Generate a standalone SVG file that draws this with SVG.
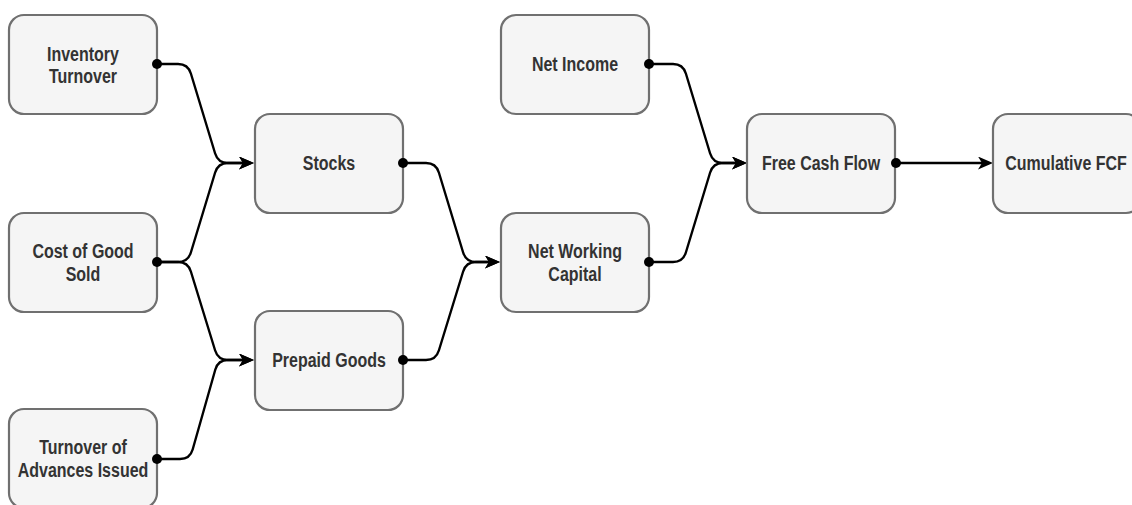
<svg xmlns="http://www.w3.org/2000/svg" width="1132" height="505" viewBox="0 0 1132 505">
  <style>
    .box { fill: #f5f5f5; stroke: #707070; stroke-width: 2.2; }
    .lbl { font-family: "Liberation Sans", Arial, Helvetica, sans-serif; font-weight: bold; font-size: 16px; fill: #333333; text-anchor: middle; }
    .edge { fill: none; stroke: #000000; stroke-width: 2.3; stroke-linejoin: round; }
    .dot { fill: #000000; }
  </style>
  <defs>
    <marker id="arrow" markerUnits="userSpaceOnUse" markerWidth="16" markerHeight="14" refX="11" refY="6.5" orient="auto">
      <path d="M0,0 L15,6.5 L0,13 L4,6.5 Z" fill="#000000"/>
    </marker>
  </defs>

  <rect width="1132" height="505" fill="#ffffff"/>

  <!-- connectors -->
  <g id="connectors">
    <path class="edge" marker-end="url(#arrow)" d="M157,64 H178 Q188,64 190.9,73.6 L215.1,153.4 Q218,163 228,163 H250"/>
    <path class="edge" marker-end="url(#arrow)" d="M157,262 H178 Q188,262 190.9,252.4 L215.1,172.6 Q218,163 228,163 H250"/>
    <path class="edge" marker-end="url(#arrow)" d="M157,262 H178 Q188,262 190.9,271.6 L215.1,350.4 Q218,360 228,360 H250"/>
    <path class="edge" marker-end="url(#arrow)" d="M157,459 H180 Q190,459 192.7,449.4 L215.3,369.6 Q218,360 228,360 H250"/>
    <path class="edge" marker-end="url(#arrow)" d="M403,163 H426 Q436,163 438.9,172.6 L463.1,252.4 Q466,262 476,262 H496"/>
    <path class="edge" marker-end="url(#arrow)" d="M403,360 H426 Q436,360 438.9,350.4 L463.1,271.6 Q466,262 476,262 H496"/>
    <path class="edge" marker-end="url(#arrow)" d="M649,64 H673 Q683,64 685.9,73.6 L710.1,153.4 Q713,163 723,163 H743"/>
    <path class="edge" marker-end="url(#arrow)" d="M649,262 H673 Q683,262 685.9,252.4 L710.1,172.6 Q713,163 723,163 H743"/>
    <path class="edge" marker-end="url(#arrow)" d="M896,163 H989"/>
  </g>

  <g id="inventory-turnover">
    <rect class="box" x="9" y="15" width="148" height="99" rx="15"/>
    <text class="lbl" transform="translate(83,61) scale(1,1.22)">Inventory</text>
    <text class="lbl" transform="translate(83,83) scale(1,1.22)">Turnover</text>
    <circle class="dot" cx="157" cy="64" r="5"/>
  </g>

  <g id="cost-of-good-sold">
    <rect class="box" x="9" y="213" width="148" height="99" rx="15"/>
    <text class="lbl" transform="translate(83,258) scale(1,1.22)">Cost of Good</text>
    <text class="lbl" transform="translate(83,281) scale(1,1.22)">Sold</text>
    <circle class="dot" cx="157" cy="262" r="5"/>
  </g>

  <g id="turnover-of-advances">
    <rect class="box" x="9" y="409" width="148" height="99" rx="15"/>
    <text class="lbl" transform="translate(83,454) scale(1,1.22)">Turnover of</text>
    <text class="lbl" transform="translate(83,477) scale(1,1.22)">Advances Issued</text>
    <circle class="dot" cx="157" cy="459" r="5"/>
  </g>

  <g id="stocks">
    <rect class="box" x="255" y="114" width="148" height="99" rx="15"/>
    <text class="lbl" transform="translate(329,170) scale(1,1.22)">Stocks</text>
    <circle class="dot" cx="403" cy="163" r="5"/>
  </g>

  <g id="prepaid-goods">
    <rect class="box" x="255" y="311" width="148" height="99" rx="15"/>
    <text class="lbl" transform="translate(329,367) scale(1,1.22)">Prepaid Goods</text>
    <circle class="dot" cx="403" cy="360" r="5"/>
  </g>

  <g id="net-income">
    <rect class="box" x="501" y="15" width="148" height="99" rx="15"/>
    <text class="lbl" transform="translate(575,71) scale(1,1.22)">Net Income</text>
    <circle class="dot" cx="649" cy="64" r="5"/>
  </g>

  <g id="net-working-capital">
    <rect class="box" x="501" y="213" width="148" height="99" rx="15"/>
    <text class="lbl" transform="translate(575,258) scale(1,1.22)">Net Working</text>
    <text class="lbl" transform="translate(575,281) scale(1,1.22)">Capital</text>
    <circle class="dot" cx="649" cy="262" r="5"/>
  </g>

  <g id="free-cash-flow">
    <rect class="box" x="747" y="114" width="148" height="99" rx="15"/>
    <text class="lbl" transform="translate(821,170) scale(1,1.22)">Free Cash Flow</text>
    <circle class="dot" cx="896" cy="163" r="5"/>
  </g>

  <g id="cumulative-fcf">
    <rect class="box" x="993" y="114" width="148" height="99" rx="15"/>
    <text class="lbl" transform="translate(1066,170) scale(1,1.22)">Cumulative FCF</text>
  </g>
</svg>
